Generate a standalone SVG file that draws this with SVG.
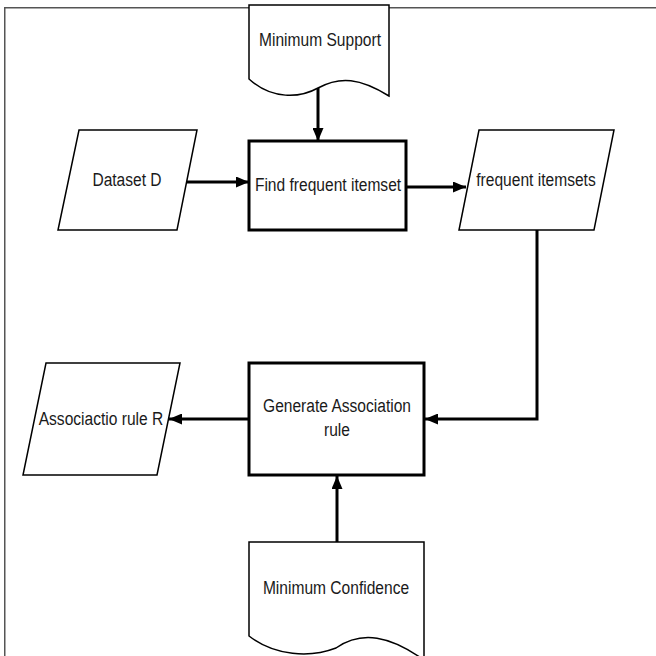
<svg xmlns="http://www.w3.org/2000/svg" width="656" height="656" viewBox="0 0 656 656">
  <style>
    .frame { fill: none; stroke: #555; stroke-width: 1.5; }
    .io { fill: #fff; stroke: #000; stroke-width: 1.5; stroke-linejoin: miter; }
    .proc { fill: #fff; stroke: #000; stroke-width: 3; }
    .doc { fill: #fff; stroke: #000; stroke-width: 1.5; }
    .lbl { font-family: "Liberation Sans", Arial, sans-serif; font-size: 19px; fill: #1a1a1a; text-anchor: middle; }
    .conn { fill: none; stroke: #000; stroke-width: 3; }
  </style>
  <defs>
    <marker id="arrow" viewBox="0 0 13 11" refX="13" refY="5.5" markerWidth="13" markerHeight="11" markerUnits="userSpaceOnUse" orient="auto">
      <path d="M0,0 L13,5.5 L0,11 Z" fill="#000"/>
    </marker>
  </defs>
  <rect width="656" height="656" fill="#fff"/>
  <path class="frame" d="M4.75,656 V7.75 H656"/>

  <g id="connectors">
    <path class="conn" d="M318,88 V141" marker-end="url(#arrow)"/>
    <path class="conn" d="M187,182 H249" marker-end="url(#arrow)"/>
    <path class="conn" d="M406,187 H466" marker-end="url(#arrow)"/>
    <path class="conn" d="M537,230 V419 H425" marker-end="url(#arrow)"/>
    <path class="conn" d="M249,419 H169" marker-end="url(#arrow)"/>
    <path class="conn" d="M337,542 V476" marker-end="url(#arrow)"/>
  </g>

  <g id="min-support">
    <path class="doc" d="M249,5 H389 V96 C360,78 340,76 318,88 C300,98 272,100 249,79 Z"/>
    <text class="lbl" transform="translate(320,46) scale(0.82,1)">Minimum Support</text>
  </g>

  <g id="dataset">
    <path class="io" d="M79,130 H197 L177,230 H58 Z"/>
    <text class="lbl" transform="translate(127,186) scale(0.82,1)">Dataset D</text>
  </g>

  <g id="find">
    <rect class="proc" x="249" y="141" width="157" height="89"/>
    <text class="lbl" transform="translate(328,191) scale(0.82,1)">Find frequent itemset</text>
  </g>

  <g id="frequent">
    <path class="io" d="M479,130 H614 L594,230 H459 Z"/>
    <text class="lbl" transform="translate(536,186) scale(0.82,1)">frequent itemsets</text>
  </g>

  <g id="generate">
    <rect class="proc" x="249" y="363" width="175" height="112"/>
    <text class="lbl" transform="translate(337,412) scale(0.82,1)">Generate Association</text>
    <text class="lbl" transform="translate(337,436) scale(0.82,1)">rule</text>
  </g>

  <g id="rule">
    <path class="io" d="M46,363 H180 L157,475 H23 Z"/>
    <text class="lbl" transform="translate(101,425) scale(0.82,1)">Associactio rule R</text>
  </g>

  <g id="min-confidence">
    <path class="doc" d="M249,542 H424 V660 C390,636 362,630 336,648 C310,658 275,656 249,636 Z"/>
    <text class="lbl" transform="translate(336,594) scale(0.82,1)">Minimum Confidence</text>
  </g>
</svg>
